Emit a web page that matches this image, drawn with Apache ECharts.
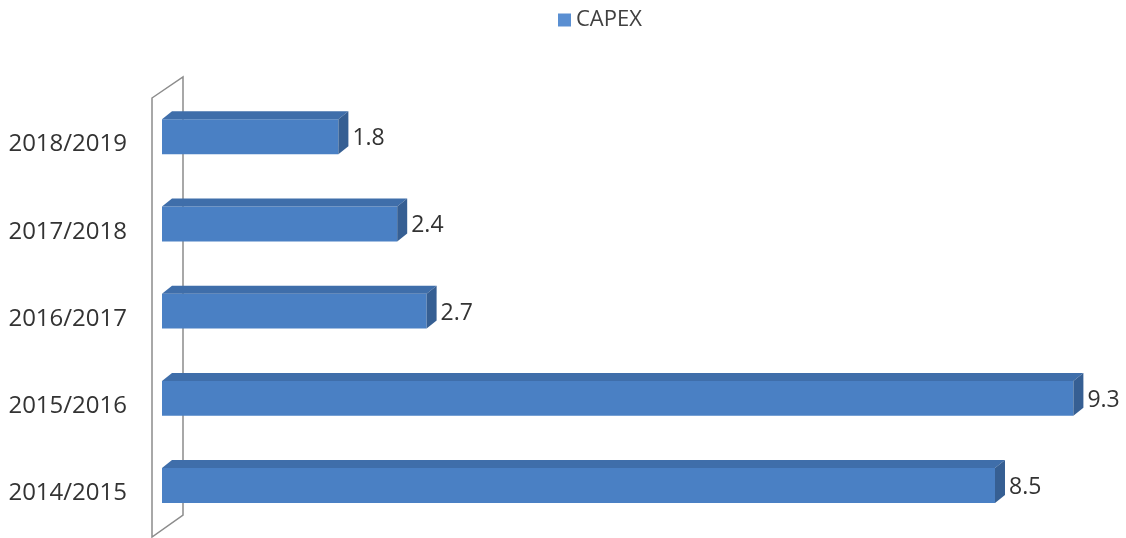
<!DOCTYPE html>
<html>
<head>
<meta charset="utf-8">
<script src="https://cdn.jsdelivr.net/npm/echarts@6/dist/echarts.min.js"></script>
<style>
html,body{margin:0;padding:0;background:#fff;}
#main{width:1126px;height:538px;}
</style>
</head>
<body>
<div id="main"></div>
<script>
const categories = ['2014/2015', '2015/2016', '2016/2017', '2017/2018', '2018/2019'];
const capex = [8.5, 9.3, 2.7, 2.4, 1.8];
const seriesName = 'CAPEX';

const chart = echarts.init(document.getElementById('main'));
const FONT = '"Open Sans", "Liberation Sans", sans-serif';

function renderBar(params, api) {
  const v = api.value(0);
  const idx = api.value(1);
  const p0 = api.coord([0, idx]);
  const p1 = api.coord([v, idx]);
  const band = api.size([0, 1])[1];
  const cy = p0[1];
  const top = cy - band * 0.29;
  const h = band * 0.40;
  const dx = 10, dy = 8;
  const x0 = p0[0], x1 = p1[0];
  return {
    type: 'group',
    children: [
      { type: 'rect', shape: { x: x0, y: top, width: x1 - x0, height: h },
        style: { fill: '#4a80c4' } },
      { type: 'polygon', shape: { points: [[x0, top], [x0 + dx, top - dy], [x1 + dx, top - dy], [x1, top]] },
        style: { fill: '#3f6eaa' } },
      { type: 'polygon', shape: { points: [[x1, top], [x1 + dx, top - dy], [x1 + dx, top + h - dy], [x1, top + h]] },
        style: { fill: '#365f93' } },
      { type: 'text', x: x1 + dx + 4, y: cy - 6,
        style: { text: String(v), fill: '#333', font: '23px ' + FONT, verticalAlign: 'middle', align: 'left' } }
    ]
  };
}

chart.setOption({
  backgroundColor: '#fff',
  animation: false,
  legend: {
    top: 4, left: 553,
    itemWidth: 13, itemHeight: 13, itemGap: 6,
    icon: 'rect',
    textStyle: { fontFamily: FONT, fontSize: 22, color: '#404040' },
    data: [seriesName]
  },
  grid: { left: 162, top: 101, height: 436, width: 931 },
  xAxis: {
    type: 'value', min: 0, max: 9.5,
    show: false
  },
  yAxis: {
    type: 'category', data: categories,
    axisLine: { show: false }, axisTick: { show: false },
    axisLabel: { margin: 35, fontFamily: FONT, fontSize: 24, color: '#333' }
  },
  graphic: [
    { type: 'polygon', z: -10, shape: { points: [[152, 98], [183, 77], [183, 515], [152, 537]] },
      style: { fill: 'none', stroke: '#8c8c8c', lineWidth: 1.5 } }
  ],
  series: [{
    name: seriesName, type: 'custom', z: 5,
    itemStyle: { color: '#5a8fd2' },
    renderItem: renderBar,
    encode: { x: 0, y: 1 },
    data: capex.map((v, i) => [v, i])
  }]
});
</script>
</body>
</html>
